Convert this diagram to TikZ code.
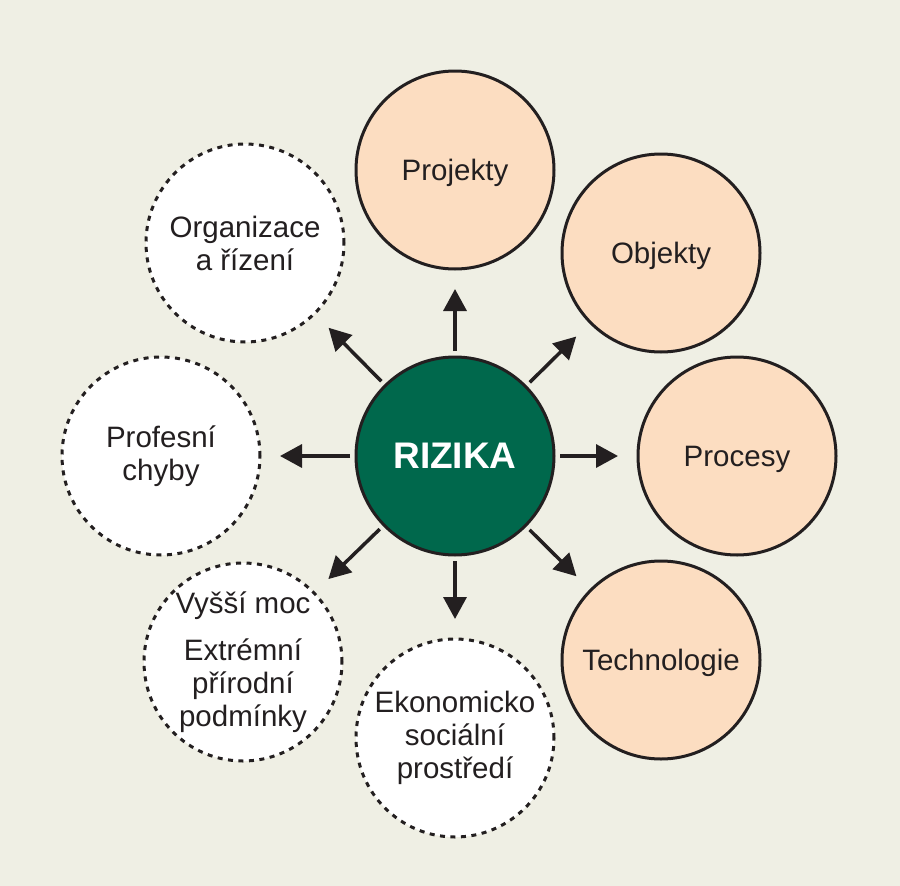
\documentclass[tikz,border=0pt]{standalone}
\usepackage{fontspec}
\setmainfont{Liberation Sans}
\usetikzlibrary{arrows.meta}
\definecolor{bgc}{RGB}{239,239,228}
\definecolor{peach}{RGB}{252,221,193}
\definecolor{rgreen}{RGB}{0,104,76}
\definecolor{ink}{RGB}{35,31,32}
\begin{document}
\begin{tikzpicture}[x=1pt,y=-1pt,
  txt/.style={font=\fontsize{29.5}{33}\selectfont,text=ink,align=center},
  solidc/.style={circle,draw=ink,line width=3pt,fill=peach,minimum size=198pt,inner sep=0pt,txt,text depth=0pt},
  dashc/.style={circle,draw=ink,line width=3pt,dash pattern=on 5pt off 5.5pt,fill=white,minimum size=198pt,inner sep=0pt,txt},
  centerc/.style={circle,draw=ink,line width=3pt,fill=rgreen,minimum size=198pt,inner sep=0pt,text=white,font=\fontsize{37}{42}\selectfont\bfseries},
  arr/.style={-{Triangle[length=22pt,width=23pt]},line width=3.5pt,draw=ink,shorten <=4.5pt,shorten >=18.5pt}]
\fill[bgc] (0,0) rectangle (900,886);
\useasboundingbox (0,0) rectangle (900,886);

\node[centerc] (c) at (455,456) {RIZIKA};

\node[solidc] (proj) at (455,170) {Projekty};
\node[solidc] (obj) at (661,253) {Objekty};
\node[solidc] (proc) at (737,456) {Procesy};
\node[solidc] (tech) at (661,660) {Technologie};
\node[dashc] (eko) at (455,738) {Ekonomicko\\sociální\\prostředí};
\node[dashc] (vys) at (243,662) {Vyšší moc\\[14pt]Extrémní\\přírodní\\podmínky};
\node[dashc] (prof) at (161,456) {Profesní\\chyby};
\node[dashc] (org) at (245,243) {Organizace\\a řízení};

\foreach \t in {proj,obj,proc,tech,eko,vys,prof,org}
  \draw[arr] (c) -- (\t);
\end{tikzpicture}
\end{document}
